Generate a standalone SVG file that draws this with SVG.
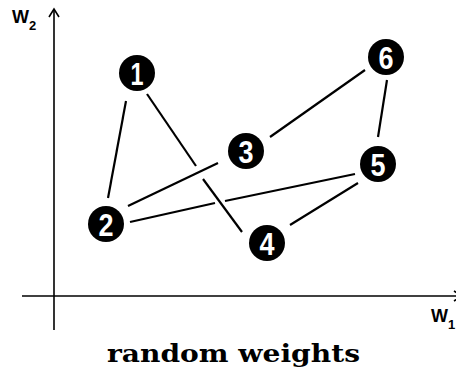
<svg xmlns="http://www.w3.org/2000/svg" width="456" height="383" viewBox="0 0 456 383">
<style>
.axis{stroke:#000;stroke-width:1.6;fill:none}
.edge{stroke:#000;stroke-width:2.2;fill:none}
.node circle{fill:#000}
.node text{fill:#fff;font-family:"Liberation Sans",Arial,sans-serif;font-weight:bold;font-size:32px;text-anchor:middle}
.lbl{font-family:"Liberation Sans",Arial,sans-serif;font-weight:bold;fill:#000;font-size:18px}
.sub{font-size:13px}
.title{font-family:"DejaVu Serif",serif;font-weight:bold;font-size:25px;fill:#000}
</style>
<g id="axes">
<line class="axis" x1="54" y1="9" x2="54" y2="330"/>
<polyline class="axis" points="49,17 54,9 59,17"/>
<line class="axis" x1="22" y1="296" x2="462" y2="296"/>
<polyline class="axis" points="454,291 462,296 454,301"/>
<text class="lbl" x="12" y="23">W<tspan class="sub" dy="7">2</tspan></text>
<text class="lbl" x="431" y="322">W<tspan class="sub" dy="7">1</tspan></text>
</g>
<g id="connectors">
<line class="edge" x1="126" y1="101" x2="108" y2="198"/>
<line class="edge" x1="147" y1="94" x2="196" y2="166"/>
<line class="edge" x1="203" y1="179" x2="242" y2="232"/>
<line class="edge" x1="128" y1="206" x2="218" y2="163"/>
<line class="edge" x1="130" y1="222" x2="215" y2="203"/>
<line class="edge" x1="225" y1="201" x2="355" y2="174"/>
<line class="edge" x1="270" y1="137" x2="365" y2="70"/>
<line class="edge" x1="387" y1="80" x2="378" y2="137"/>
<line class="edge" x1="358" y1="183" x2="290" y2="225"/>
</g>
<g id="node1" class="node"><circle cx="137" cy="73" r="18"/><text x="137" y="85" textLength="13" lengthAdjust="spacingAndGlyphs">1</text></g>
<g id="node2" class="node"><circle cx="106" cy="224" r="18"/><text x="106" y="236" textLength="15" lengthAdjust="spacingAndGlyphs">2</text></g>
<g id="node3" class="node"><circle cx="246" cy="151" r="18"/><text x="246" y="163" textLength="15" lengthAdjust="spacingAndGlyphs">3</text></g>
<g id="node4" class="node"><circle cx="267" cy="243" r="18"/><text x="267" y="255" textLength="15" lengthAdjust="spacingAndGlyphs">4</text></g>
<g id="node5" class="node"><circle cx="378" cy="164" r="18"/><text x="378" y="176" textLength="15" lengthAdjust="spacingAndGlyphs">5</text></g>
<g id="node6" class="node"><circle cx="386" cy="57" r="18"/><text x="386" y="69" textLength="15" lengthAdjust="spacingAndGlyphs">6</text></g>
<text class="title" x="107" y="362" textLength="253" lengthAdjust="spacingAndGlyphs">random weights</text>
</svg>
